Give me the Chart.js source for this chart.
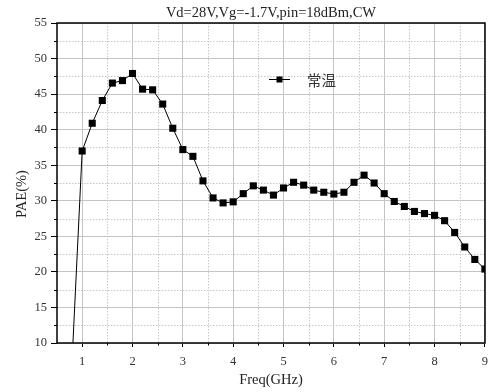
<!DOCTYPE html>
<html><head><meta charset="utf-8">
<script src="https://cdn.jsdelivr.net/npm/chart.js@4"></script>
<style>html,body{margin:0;padding:0;background:#fff;}canvas{display:block;}</style>
</head><body>
<canvas id="c" width="495" height="392"></canvas>
<script>
const TITLE = 'Vd=28V,Vg=-1.7V,pin=18dBm,CW';
const X_TITLE = 'Freq(GHz)';
const Y_TITLE = 'PAE(%)';
const SERIES_LABEL = '常温';

const freqGHz = [0.8,1.0,1.2,1.4,1.6,1.8,2.0,2.2,2.4,2.6,2.8,3.0,3.2,3.4,3.6,3.8,4.0,4.2,4.4,4.6,4.8,5.0,5.2,5.4,5.6,5.8,6.0,6.2,6.4,6.6,6.8,7.0,7.2,7.4,7.6,7.8,8.0,8.2,8.4,8.6,8.8,9.0];
const paePercent = [7.6,37.0,40.9,44.1,46.55,46.9,47.9,45.7,45.6,43.6,40.2,37.2,36.25,32.8,30.4,29.7,29.85,31.0,32.1,31.5,30.8,31.8,32.6,32.2,31.5,31.2,30.95,31.2,32.6,33.6,32.5,31.0,29.9,29.2,28.5,28.2,27.95,27.2,25.55,23.5,21.75,20.4];

const xTickLabels = [1,2,3,4,5,6,7,8,9];
const yTickLabels = [10,15,20,25,30,35,40,45,50,55];
const xMinorTicks = [1.5,2.5,3.5,4.5,5.5,6.5,7.5,8.5];
const yMinorTicks = [12.5,17.5,22.5,27.5,32.5,37.5,42.5,47.5,52.5];

const SERIF = '"Liberation Serif", "DejaVu Serif", serif';
const CJK = '"Noto Sans CJK SC", sans-serif';

const decor = {
  id: 'decor',
  beforeDatasetsDraw(chart) {
    const {ctx, chartArea: a, scales: {x, y}} = chart;
    ctx.save();
    ctx.strokeStyle = '#c8c8c8';
    ctx.lineWidth = 1;
    ctx.setLineDash([1.5, 1.5]);
    ctx.beginPath();
    xMinorTicks.forEach(v => {
      const px = Math.round(x.getPixelForValue(v)) + 0.5;
      ctx.moveTo(px, a.top); ctx.lineTo(px, a.bottom);
    });
    yMinorTicks.forEach(v => {
      const py = Math.round(y.getPixelForValue(v)) + 0.5;
      ctx.moveTo(a.left, py); ctx.lineTo(a.right, py);
    });
    ctx.stroke();
    ctx.restore();
  },
  afterDatasetsDraw(chart) {
    const {ctx, chartArea: a, scales: {x, y}} = chart;
    ctx.save();
    // minor ticks
    ctx.strokeStyle = '#000';
    ctx.lineWidth = 1;
    ctx.beginPath();
    xMinorTicks.forEach(v => {
      const px = Math.round(x.getPixelForValue(v)) + 0.5;
      ctx.moveTo(px, a.bottom); ctx.lineTo(px, a.bottom + 2.5);
    });
    yMinorTicks.forEach(v => {
      const py = Math.round(y.getPixelForValue(v)) + 0.5;
      ctx.moveTo(a.left, py); ctx.lineTo(a.left - 3, py);
    });
    ctx.stroke();
    // frame
    ctx.lineWidth = 1.5;
    ctx.strokeRect(Math.round(a.left), Math.round(a.top), Math.round(a.right - a.left), Math.round(a.bottom - a.top));
    // title
    ctx.fillStyle = '#222';
    ctx.font = '14.5px ' + SERIF;
    ctx.textAlign = 'center';
    ctx.textBaseline = 'alphabetic';
    ctx.fillText(TITLE, (a.left + a.right) / 2, 16.5);
    // x title
    ctx.textBaseline = 'middle';
    ctx.fillText(X_TITLE, (a.left + a.right) / 2, 380);
    // y title
    ctx.save();
    ctx.translate(22, 194);
    ctx.rotate(-Math.PI / 2);
    ctx.fillText(Y_TITLE, 0, 0);
    ctx.restore();
    // legend
    const ds = chart.data.datasets[0];
    ctx.strokeStyle = '#000';
    ctx.lineWidth = 1;
    ctx.beginPath();
    ctx.moveTo(269, 79.5); ctx.lineTo(290, 79.5);
    ctx.stroke();
    ctx.fillStyle = '#000';
    ctx.fillRect(276.5, 76.5, 6, 6);
    ctx.fillStyle = '#333';
    ctx.font = '14.5px ' + CJK;
    ctx.textAlign = 'left';
    ctx.textBaseline = 'middle';
    ctx.fillText(ds.label, 307, 80);
    ctx.restore();
  }
};

new Chart(document.getElementById('c'), {
  type: 'line',
  data: {
    datasets: [{
      label: SERIES_LABEL,
      data: freqGHz.map((f, i) => ({x: f, y: paePercent[i]})),
      borderColor: '#000',
      borderWidth: 1,
      pointStyle: 'rect',
      pointRadius: 5,
      pointBorderWidth: 0,
      pointBackgroundColor: '#000',
      pointBorderColor: '#000',
      tension: 0
    }]
  },
  options: {
    responsive: false,
    animation: false,
    devicePixelRatio: 1,
    layout: {padding: {top: 23, right: 8, left: 0, bottom: 0}},
    plugins: {legend: {display: false}, title: {display: false}, tooltip: {enabled: false}},
    scales: {
      x: {
        type: 'linear', min: 0.5, max: 9,
        afterBuildTicks: s => { s.ticks = xTickLabels.map(v => ({value: v})); },
        afterFit: s => { s.height = 49; },
        ticks: {font: {family: SERIF, size: 12.5}, color: '#333', padding: 7, maxRotation: 0, autoSkip: false},
        grid: {color: '#c4c4c4', lineWidth: 1, tickColor: '#000', tickLength: 4, drawTicks: true},
        border: {display: false}
      },
      y: {
        min: 10, max: 55,
        afterBuildTicks: s => { s.ticks = yTickLabels.map(v => ({value: v})); },
        afterFit: s => { s.width = 57; },
        ticks: {font: {family: SERIF, size: 12.5}, color: '#333', padding: 4, autoSkip: false},
        grid: {color: '#c4c4c4', lineWidth: 1, tickColor: '#000', tickLength: 6, drawTicks: true},
        border: {display: false}
      }
    }
  },
  plugins: [decor]
});
</script>
</body></html>
